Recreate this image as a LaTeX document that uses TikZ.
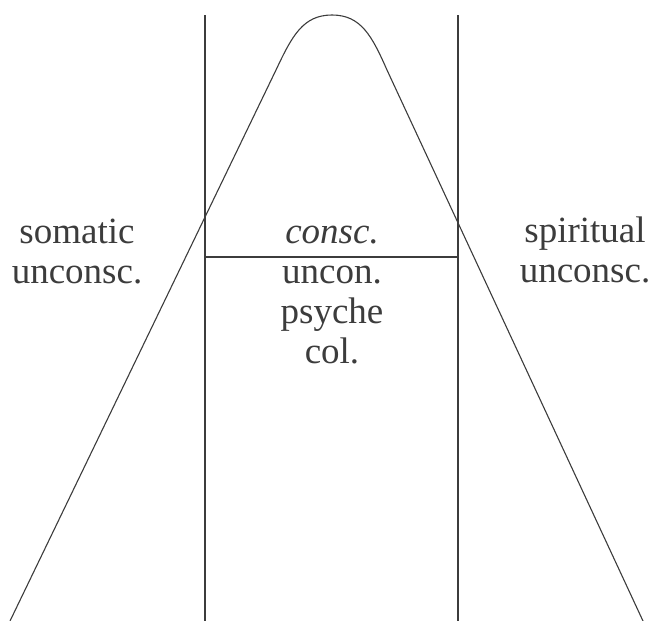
\documentclass[tikz,border=0pt]{standalone}
\usepackage{fontspec}
\setmainfont{Liberation Serif}
\definecolor{ink}{HTML}{3C3C3C}
\begin{document}
\begin{tikzpicture}[x=1pt,y=-1pt,
  rule/.style={draw=ink,line width=1.3pt},
  bell/.style={draw=ink,line width=1.1pt},
  lbl/.style={text=ink,inner sep=0pt,align=center,anchor=base,
    font=\fontsize{37}{40}\selectfont}]
\useasboundingbox (0,0) rectangle (649,621);
% vertical lines
\coordinate (lt) at (205,15);
\coordinate (lb) at (205,621);
\coordinate (rt) at (458,15);
\coordinate (rb) at (458,621);
\coordinate (hl) at (205,257);
\coordinate (hr) at (458,257);
\draw[rule] (lt) -- (lb);
\draw[rule] (rt) -- (rb);
\draw[rule,line width=1.1pt] (hl) -- (hr);
% bell curve
\coordinate (cbl) at (10,621);
\coordinate (cl) at (276,70);
\coordinate (ctop) at (332,15);
\coordinate (cr) at (387,70);
\coordinate (cbr) at (643,621);
\draw[bell] (cbl) -- (cl) .. controls (292,36) and (303,15) .. (ctop)
  .. controls (361,15) and (372,36) .. (cr) -- (cbr);
% labels
\node[lbl] (som) at (77,283) {somatic\\unconsc.};
\node[lbl] (mid) at (332,363) {{\itshape consc.}\\uncon.\\psyche\\col.};
\node[lbl] (spi) at (585,282) {spiritual\\unconsc.};
\end{tikzpicture}
\end{document}
